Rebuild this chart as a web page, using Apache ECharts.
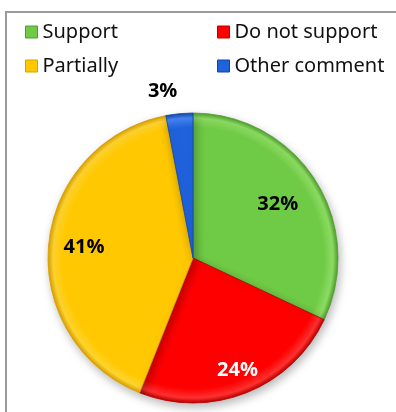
<!DOCTYPE html>
<html>
<head>
<meta charset="utf-8">
<script src="https://cdn.jsdelivr.net/npm/echarts@6/dist/echarts.min.js"></script>
<style>
  html, body { margin: 0; padding: 0; background: #fff; }
  #chart { width: 396px; height: 412px; }
</style>
</head>
<body>
<div id="chart"></div>
<script>
// Survey responses, in percent
const categories = ['Support', 'Do not support', 'Partially', 'Other comment'];
const shares = [32, 24, 41, 3];

// Slice palette: [edge, body, highlight]
const palette = [
  ['#4f9e2e', '#6fca45', '#8cdc62'],
  ['#b80000', '#ff0000', '#ff3030'],
  ['#d9a000', '#ffc800', '#ffd430'],
  ['#1244a8', '#1f62dc', '#4584f2']
];
const labelColors = ['#000', '#fff', '#000', '#000'];
// how far out each label sits, relative to the default inside position
const labelReach = [1.33, 1.6, 1.45, 2.3];
// small extra nudge for the label of the narrow slice
const labelNudge = [[0, 0], [0, 0], [0, 0], [-14, 6]];

const CX = 193, CY = 258, R = 145;

function fill(i) {
  const [edge, body, hi] = palette[i];
  return {
    type: 'radial', x: CX, y: CY, r: R, global: true,
    colorStops: [
      { offset: 0, color: body },
      { offset: 0.9, color: body },
      { offset: 0.965, color: hi },
      { offset: 1, color: edge }
    ]
  };
}

function legendItem(i) {
  return {
    name: categories[i],
    itemStyle: { color: palette[i][1], borderColor: palette[i][0], borderWidth: 1 }
  };
}

const chart = echarts.init(document.getElementById('chart'), null, { renderer: 'canvas' });

const legendText = { fontFamily: 'Noto Sans', fontSize: 20, color: '#111' };

chart.setOption({
  animation: false,
  graphic: [{
    type: 'rect',
    shape: { x: 6, y: 12, width: 420, height: 430 },
    style: { fill: 'none', stroke: '#9a9a9a', lineWidth: 2 },
    silent: true
  }],
  legend: [
    {
      orient: 'vertical', left: 20, top: 17, itemGap: 14,
      itemWidth: 12, itemHeight: 12, icon: 'rect',
      data: [legendItem(0), legendItem(2)], textStyle: legendText
    },
    {
      orient: 'vertical', left: 212, top: 17, itemGap: 14,
      itemWidth: 12, itemHeight: 12, icon: 'rect',
      data: [legendItem(1), legendItem(3)], textStyle: legendText
    }
  ],
  series: [{
    type: 'pie',
    center: [CX, CY],
    radius: [0, R],
    startAngle: 90,
    clockwise: true,
    avoidLabelOverlap: false,
    data: categories.map((name, i) => ({
      name,
      value: shares[i],
      itemStyle: {
        color: fill(i),
        borderColor: palette[i][0],
        borderWidth: 0.8
      },
      label: { color: labelColors[i] }
    })),
    itemStyle: {
      shadowBlur: 10,
      shadowOffsetX: 2,
      shadowOffsetY: 4,
      shadowColor: 'rgba(0,0,0,0.28)'
    },
    label: {
      show: true,
      position: 'inside',
      formatter: '{c}%',
      fontFamily: 'Open Sans',
      fontWeight: 'bold',
      fontSize: 20
    },
    labelLine: { show: false },
    labelLayout: (p) => {
      const r = p.labelRect;
      const lx = r.x + r.width / 2, ly = r.y + r.height / 2;
      const k = labelReach[p.dataIndex];
      const [nx, ny] = labelNudge[p.dataIndex];
      return { dx: (lx - CX) * (k - 1) + nx, dy: (ly - CY) * (k - 1) + ny };
    },
    emphasis: { disabled: true }
  }]
});
</script>
</body>
</html>
